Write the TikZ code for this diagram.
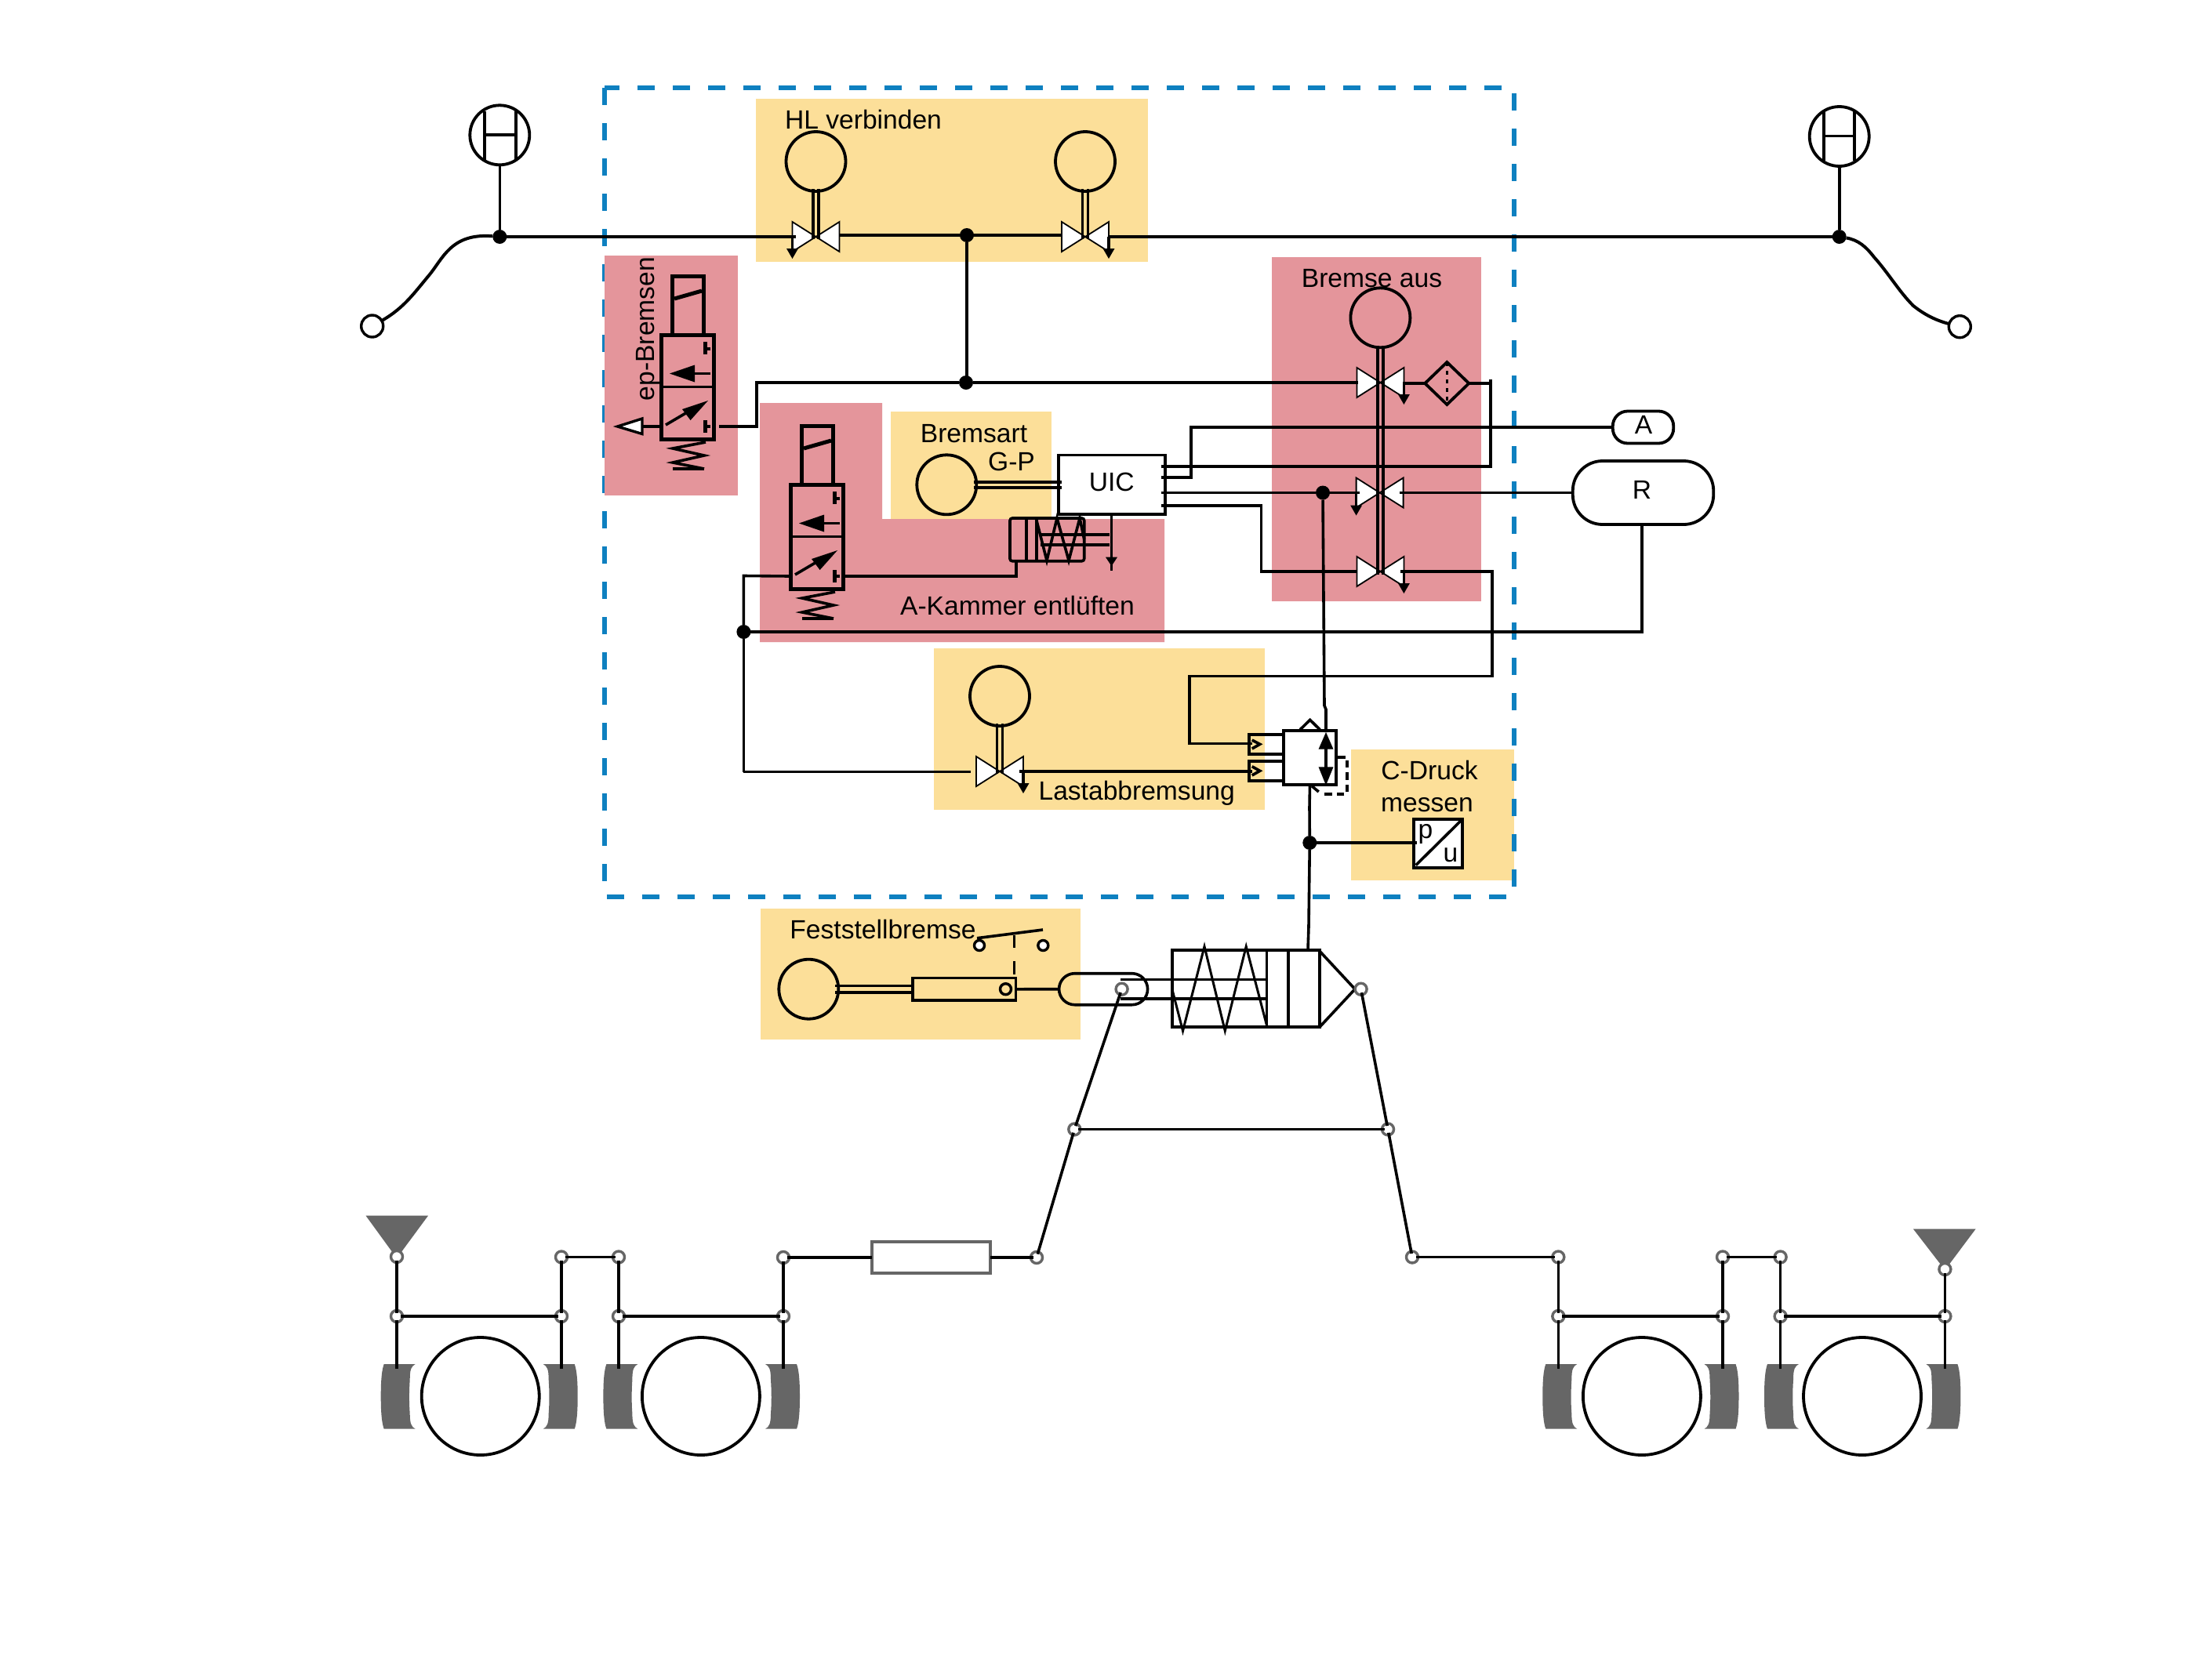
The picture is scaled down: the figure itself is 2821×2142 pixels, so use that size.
\documentclass[tikz,border=0pt]{standalone}
\usepackage{fontspec}
\setmainfont{Liberation Sans}
\usetikzlibrary{calc,shapes.geometric}
\definecolor{yel}{HTML}{FCDF99}
\definecolor{pnk}{HTML}{E4959B}
\definecolor{blu}{HTML}{0E80C0}
\definecolor{gry}{HTML}{666666}
\tikzset{
  wire/.style={line width=3.6pt,draw=black},
  hl/.style={line width=4pt,draw=black},
  heavy/.style={line width=5pt,draw=black},
  slim/.style={line width=3pt,draw=black},
  vtri/.style={line width=1.8pt,draw=black,fill=white},
  dis/.style={circle,draw=black,line width=3.8pt,inner sep=0pt,outer sep=0pt,minimum size=76pt},
  wheel/.style={circle,draw=black,line width=3.8pt,inner sep=0pt,outer sep=0pt,fill=white,minimum size=150pt},
  junc/.style={circle,fill=black,inner sep=0pt,outer sep=0pt,minimum size=18pt},
  pivot/.style={circle,draw=gry,fill=white,line width=3.4pt,inner sep=0pt,outer sep=0pt,minimum size=15pt},
  link/.style={line width=3.6pt,draw=black,shorten >=-3pt,shorten <=-3pt},
  lab/.style={anchor=base,inner sep=0pt,outer sep=0pt,yshift=-1.5pt,font=\fontsize{33.6}{38}\selectfont},
  shoeg/.style={fill=gry},
  boxn/.style={draw=black,fill=white,line width=3.8pt,inner sep=0pt,outer sep=0pt},
}
\newcommand{\valve}[3]{%
  \coordinate (#1) at (#2,#3);
  \coordinate (#1l) at (#2-30,#3);
  \coordinate (#1r) at (#2+30,#3);
  \draw[vtri] (#2,#3) -- (#2-30,#3-19) -- (#2-30,#3+19) -- cycle;
  \draw[vtri] (#2,#3) -- (#2+30,#3-19) -- (#2+30,#3+19) -- cycle;
}
\newcommand{\exhaust}[2]{% named start, downward
  \draw[wire] (#1) -- ++(0,#2-3);
  \fill[black] ($(#1)+(-7.5,#2-13)$) -- ($(#1)+(7.5,#2-13)$) -- ($(#1)+(0,#2)$) -- cycle;
}
\newcommand{\dwires}[2]{% disc, valve
  \draw[wire] ($(#1.south)+(-3.4,-3)$) -- ($(#2)+(-3.4,3)$);
  \draw[wire] ($(#1.south)+(3.4,-3)$) -- ($(#2)+(3.4,3)$);
}
\newcommand{\solvalve}[3]{%
 \begin{scope}[shift={(#2,#3)}]
  \draw[heavy] (14,0) -- (14,-75) -- (54,-75) -- (54,0);
  \draw[heavy] (17,-46) -- (52,-56);
  \draw[heavy] (0,0) rectangle (67,133);
  \draw[slim] (0,66.5) -- (67,66.5);
  \draw[wire] (63,18) -- (56,18);
  \draw[heavy] (56,9) -- (56,25);
  \draw[wire] (63,49.5) -- (30,49.5);
  \fill[black] (11,49.5) -- (43,38.5) -- (43,60.5) -- cycle;
  \draw[wire] (6,115) -- (40,95);
  \fill[black] (60,84) -- (27,95) -- (37.6,109) -- cycle;
  \draw[wire] (63,117) -- (56,117);
  \draw[heavy] (56,109) -- (56,125);
  \draw[wire] (57,137) -- (15,145) -- (55,154) -- (15,163) -- (55,171);
  \draw[wire] (15,171) -- (55,171);
  \coordinate (#1w) at (0,117);
  \coordinate (#1e) at (67,117);
 \end{scope}
}
\newcommand{\shoeL}[1]{%
  \fill[shoeg,shift={(#1,0)}] (4,1740) -- (44,1740) .. controls (39,1743) and (37,1746) .. (37,1760)
    .. controls (36,1775) and (36,1790) .. (37,1803) .. controls (37,1816) and (39,1820) .. (44,1822.7)
    -- (4,1822.7) .. controls (1,1815) and (0,1800) .. (0,1781) .. controls (0,1762) and (1,1748) .. (4,1740) -- cycle;
}
\newcommand{\shoeR}[1]{%
  \fill[shoeg,shift={(#1,0)},xscale=-1] (4,1740) -- (44,1740) .. controls (39,1743) and (37,1746) .. (37,1760)
    .. controls (36,1775) and (36,1790) .. (37,1803) .. controls (37,1816) and (39,1820) .. (44,1822.7)
    -- (4,1822.7) .. controls (1,1815) and (0,1800) .. (0,1781) .. controls (0,1762) and (1,1748) .. (4,1740) -- cycle;
}
\begin{document}
\begin{tikzpicture}[x=1pt,y=-1pt]
\useasboundingbox (0,0) rectangle (2821,2142);
\fill[white] (0,0) rectangle (2821,2142);

% --- coloured groups
\fill[yel] (1723,956) rectangle (1931,1123);
\draw[blu,line width=6pt,dash pattern=on 22pt off 23pt] (770.5,112.4) rectangle (1931,1144);
\fill[pnk] (771,326) rectangle (941,632);
\fill[yel] (964,126) rectangle (1464,334);
\fill[pnk] (969,514) -- (1125,514) -- (1125,662) -- (1485,662) -- (1485,819) -- (969,819) -- cycle;
\fill[yel] (1136,525) rectangle (1341,662);
\fill[pnk] (1622,328) rectangle (1889.4,767);
\fill[yel] (1191,827) rectangle (1612.7,1032.7);
\fill[yel] (970,1159) rectangle (1378,1325.7);

% --- texts
\node[lab] (tHL) at (1101,163.4) {HL verbinden};
\node[lab,rotate=90,anchor=base,yshift=1.5pt,xshift=1pt] (tEP) at (836,419) {ep-Bremsen};
\node[lab] (tBS) at (1242,562.7) {Bremsart};
\node[lab] (tGP) at (1290,599) {G-P};
\node[lab] (tAK) at (1297.5,783) {A-Kammer entlüften};
\node[lab] (tBA) at (1749.5,365) {Bremse aus};
\node[lab] (tLB) at (1449.7,1019) {Lastabbremsung};
\node[lab] (tCD) at (1823,993.3) {C-Druck};
\node[lab] (tME) at (1820,1034.3) {messen};
\node[lab] (tFB) at (1126,1196) {Feststellbremse};

% --- junctions and end points of the main pipe
\node[junc] (jL) at (637.3,302) {};
\node[junc] (jR) at (2345.7,302) {};
\node[junc] (jT) at (1233,300) {};
\node[junc] (jM) at (1232,488) {};
\node[junc] (jC) at (1687,628.5) {};
\node[junc] (jW) at (948.4,806) {};
\node[junc] (jP) at (1670.3,1075) {};
\node[circle,draw=black,line width=3.4pt,fill=white,inner sep=0pt,outer sep=0pt,minimum size=28pt] (endL) at (474.7,416) {};
\node[circle,draw=black,line width=3.4pt,fill=white,inner sep=0pt,outer sep=0pt,minimum size=28pt] (endR) at (2499.3,416.7) {};
\node[dis] (hL) at (637.3,172.3) {};
\node[dis] (hR) at (2345.7,174) {};
\draw[hl] (618.3,141.5) -- (618.3,203.5);
\draw[hl] (657.7,141.5) -- (657.7,203.5);
\draw[wire] (618.3,172) -- (657.7,172);
\draw[hl] (2325.5,141.5) -- (2325.5,204.5);
\draw[hl] (2364.5,141.5) -- (2364.5,204.5);
\draw[wire] (2325.5,173.3) -- (2364.5,173.3);
\draw[wire] (hL.south) -- (jL);
\draw[wire] (hR.south) -- (jR);
\draw[hl] (jL) .. controls (575,297) and (565,330) .. (546.7,351.7) .. controls (528,374) and (515,393) .. (endL);
\draw[hl] (jR) .. controls (2370,306) and (2380,315) .. (2390,328) .. controls (2408,348) and (2422,372) .. (2440,390) .. controls (2455,402) and (2470,409) .. (endR);

% --- HL valves
\node[dis] (cH1) at (1040.5,206) {};
\node[dis] (cH2) at (1384,206) {};
\valve{vH1}{1040.5}{302}
\valve{vH2}{1384}{302}
\dwires{cH1}{vH1}
\dwires{cH2}{vH2}
\exhaust{vH1l}{28}
\exhaust{vH2r}{28}
\draw[hl] (jL) -- ($(vH1l)+(4,0)$);
\draw[wire] ($(vH1r)+(0,-2)$) -- (jT.center) -- ($(vH2l)+(0,-2)$);
\draw[hl] (vH2r) -- (jR);
\draw[wire] (jT) -- (jT |- jM);

% --- ep valve
\solvalve{ep}{843}{427}
\coordinate (epOut) at (917,544);
\draw[wire] (epOut) -- (965,544) -- (965,488) -- (jM);
\draw[wire] (epw) -- (819,544);
\draw[line width=3.4pt,fill=white] (787.5,544) -- (819,534) -- (819,553.5) -- cycle;

% --- A-chamber valve and small cylinder
\solvalve{ak}{1008}{618}
\draw[wire] (akw) -- (948.4,734.5) -- (jW);
\draw[wire] (jW) -- (948.4,984.5);
\draw[wire] (ake) -- (1296,735) -- (1296,715.7);
\draw[wire,rounded corners=3pt] (1288,661) rectangle (1382.7,715.7);
\draw[wire] (1309,661) -- (1309,715.7);
\draw[wire] (1321.7,661) -- (1321.7,715.7);
\draw[wire] (1321.7,663) -- (1335,715) -- (1348,661) -- (1363,715) -- (1377,661) -- (1382.7,688);
\draw[wire] (1326.7,681.7) -- (1415,681.7);
\draw[wire] (1326.7,695) -- (1415,695);

% --- UIC and type-of-brake disc
\node[dis] (cBS) at (1207.3,618.3) {};
\node[boxn,minimum width=136pt,minimum height=75.5pt] (uic) at (1417.6,618.3) {};
\node[lab] (tUIC) at (1417.7,625) {UIC};
\draw[wire] (1241.7,615) -- (1354,615);
\draw[wire] (1241.7,622) -- (1354,622);
\coordinate (uA) at (1417.5,655);
\draw[wire] (uA) -- (1417.5,728);
\fill[black] (1410,710.7) -- (1425,710.7) -- (1417.5,722) -- cycle;

% --- Bremse aus
\node[dis] (cBA) at (1760.4,405.3) {};
\valve{vB1}{1760.4}{488}
\valve{vB2}{1759.6}{628.5}
\valve{vB3}{1760.4}{729}
\draw[wire] ($(cBA.south)+(-3.4,-2)$) -- ($(vB3)+(-3.4,4)$);
\draw[hl] ($(cBA.south)+(3.4,-2)$) -- ($(vB3)+(3.4,4)$);
\exhaust{vB1r}{28}
\exhaust{vB2l}{29}
\exhaust{vB3r}{28}
\node[draw=black,line width=3.8pt,diamond,fill=none,minimum width=56pt,minimum height=54pt,inner sep=0pt,outer sep=0pt] (fil) at (1845.3,489) {};
\draw[line width=3.6pt,dash pattern=on 5pt off 6pt] (fil.north) -- (fil.south);
\draw[wire] (jM) -- ($(vB1l)+(2,0)$);
\draw[wire] ($(vB1r)+(-1,1)$) -- (fil.west);
\draw[wire] (fil.east) -- (1901,489);
\coordinate (u1) at (1481,595);
\coordinate (u2) at (1481,608.7);
\coordinate (u3) at (1481,628.5);
\coordinate (u4) at (1481,645);
\draw[wire] (u1) -- (1901,595) -- (1901,484);
\node[boxn,minimum width=77.5pt,minimum height=41pt,rounded corners=19pt] (Abox) at (2095.5,545) {};
\node[lab] (tA) at (2096,551.7) {A};
\node[boxn,minimum width=179.5pt,minimum height=81pt,rounded corners=38pt] (Rbox) at (2095.5,628.5) {};
\node[lab] (tR) at (2094,635) {R};
\draw[wire] (u2) -- (1519,608.7) -- (1519,545) -- (Abox.west);
\draw[wire] (u3) -- (jC);
\draw[wire] (jC) -- ($(vB2l)+(4,0)$);
\draw[wire] ($(vB2r)+(-5,0)$) -- (Rbox.west);
\draw[wire] (u4) -- (1608.6,645) -- (1608.6,729) -- (vB3l);
\coordinate (Rd) at (2094,806);
\draw[wire] (Rbox.south -| Rd) -- (Rd) -- (jW);

% --- Lastabbremsung
\node[dis] (cLB) at (1275,888) {};
\valve{vL}{1275}{984}
\dwires{cLB}{vL}
\exhaust{vLr}{28}
\draw[wire] (948.4,984.5) -- (1237.7,984.5);

% --- shuttle valve
\draw[wire] (1593,936.7) rectangle (1637,961.7);
\draw[wire] (1593,970.7) rectangle (1637,996);
\node[boxn,minimum width=67pt,minimum height=68.7pt] (ctl) at (1670.5,966.3) {};
\draw[wire] (1596.7,944) -- (1606.7,949.3) -- (1596.7,955);
\draw[wire] (1596.7,977.7) -- (1606.7,983.3) -- (1596.7,989);
\draw[wire] (1658,930.7) -- (1670.7,918.3) -- (1683.3,930.7);
\draw[wire] (1673,1002.7) -- (1681.7,1010);
\draw[wire] (1691,945) -- (1691,985);
\fill[black] (1691,934) -- (1700.5,955.7) -- (1681.5,955.7) -- cycle;
\fill[black] (1691,1001.7) -- (1700.5,978.3) -- (1681.5,978.3) -- cycle;
\draw[wire,dash pattern=on 9.5pt off 6pt] (1706,966) -- (1717.7,966) -- (1717.7,1013) -- (1684,1013);
\draw[wire] (jC) -- (1689,900) -- (1691,905) -- (1691,934);
\draw[wire] (vLr) ++(-5,0) -- (1597,984);
\draw[wire] (1786,729) -- (1903,729) -- (1903,862.3) -- (1516.7,862.3) -- (1516.7,948.3) -- (1597,948.3);
\draw[wire] (ctl.south) -- (1670,1030) -- (jP);

% --- pressure sensor
\node[boxn,minimum width=62.3pt,minimum height=61.7pt] (pu) at (1833.8,1075.8) {};
\draw[wire] (pu.south west) ++(3,-3) -- ($(pu.north east)+(-2,2)$);
\node[lab] (tp) at (1818,1068) {p};
\node[lab] (tu) at (1850,1098) {u};
\draw[wire] (jP) -- (1807,1075);

% --- parking brake
\node[dis] (cFB) at (1031.3,1261.7) {};
\node[draw=black,line width=3.4pt,inner sep=0pt,outer sep=0pt,minimum width=131.7pt,minimum height=28.3pt] (fb) at (1229.8,1261.8) {};
\draw[wire] (1065,1257.3) -- (1165.7,1257.3);
\draw[wire] (1065,1266) -- (1165.7,1266);
\node[circle,draw=black,line width=3.4pt,fill=none,inner sep=0pt,outer sep=0pt,minimum size=14pt] (fbo) at (1282.5,1261.7) {};
\node[circle,draw=black,line width=3.4pt,fill=white,inner sep=0pt,outer sep=0pt,minimum size=13pt] (sw1) at (1249,1206) {};
\node[circle,draw=black,line width=3.4pt,fill=white,inner sep=0pt,outer sep=0pt,minimum size=13pt] (sw2) at (1330.3,1206) {};
\draw[wire] (1246,1196.7) -- (1330,1186);
\draw[slim,dash pattern=on 16.5pt off 17pt] (1293,1192.7) -- (1293,1243);
\draw[wire,rounded corners=20pt] (1350.6,1241.7) rectangle (1463.6,1281.7);
\draw[wire] (fb.east) -- (1350.6,1261.7);
\draw[wire] (1429,1249.3) -- (1614,1249.3);
\draw[wire] (1429,1273.7) -- (1614,1273.7);
\draw[line width=4.2pt] (1494.8,1212.3) rectangle (1683,1310);
\draw[wire] (1615.5,1212.3) -- (1615.5,1310);
\draw[wire] (1643,1212.3) -- (1643,1310);
\draw[slim] (1494.8,1261.7) -- (1508.5,1315) -- (1536,1207.3) -- (1562.3,1315) -- (1589.2,1207.3) -- (1615.5,1308);
\draw[wire] (1683,1213.3) -- (1728,1261.7) -- (1683,1310);
\coordinate (cyl) at (1668,1211.7);
\draw[wire] (jP) -- (1669,1181.7) -- (cyl);

% --- linkage
\node[pivot] (pa) at (1430.6,1261.7) {};
\node[pivot] (pb) at (1735.6,1261.7) {};
\node[pivot] (pc) at (1370.3,1440.5) {};
\node[pivot] (pd) at (1770,1440.5) {};
\node[pivot] (pe) at (1322,1604) {};
\node[pivot] (pf) at (1801,1603.5) {};
\draw[link] (pa) -- (pc);
\draw[link] (pb) -- (pd);
\draw[link] (pc) -- (pd);
\draw[link] (pc) -- (pe);
\draw[link] (pd) -- (pf);

% --- wheels and brake shoes
\shoeL{485.7}\shoeR{736.7}\shoeL{769.4}\shoeR{1020}
\shoeL{1967.3}\shoeR{2217.5}\shoeL{2250}\shoeR{2500.4}
\node[wheel] (w1) at (612.7,1781) {};
\node[wheel] (w2) at (893.9,1781) {};
\node[wheel] (w3) at (2093.9,1781) {};
\node[wheel] (w4) at (2375,1781) {};
\fill[gry] (466.5,1550.7) -- (546,1550.7) -- (506,1605) -- cycle;
\fill[gry] (2440,1567.7) -- (2519.6,1567.7) -- (2480.4,1620) -- cycle;
\node[pivot] (a1) at (506,1603) {};
\node[pivot] (a2) at (716,1603.5) {};
\node[pivot] (a3) at (789,1603.5) {};
\node[pivot] (a4) at (999,1604) {};
\node[pivot] (b1) at (506,1679) {};
\node[pivot] (b2) at (716,1679) {};
\node[pivot] (b3) at (789,1679) {};
\node[pivot] (b4) at (999,1679) {};
\node[pivot] (c1) at (1987.3,1603.5) {};
\node[pivot] (c2) at (2197,1603.5) {};
\node[pivot] (c3) at (2270.6,1603.5) {};
\node[pivot] (c4) at (2480.4,1619) {};
\node[pivot] (d1) at (1987.3,1679) {};
\node[pivot] (d2) at (2197,1679) {};
\node[pivot] (d3) at (2270.6,1679) {};
\node[pivot] (d4) at (2480.4,1679) {};
\foreach \p/\q in {a1/b1,a2/b2,a3/b3,a4/b4,b1/b2,b3/b4,a2/a3,c1/d1,c2/d2,c3/d3,c4/d4,d1/d2,d3/d4,c2/c3}{
  \draw[link] (\p) -- (\q);
}
\foreach \p in {b1,b2,b3,b4,d1,d2,d3,d4}{
  \draw[link,shorten >=0pt] (\p) -- (\p |- 0,1745.7);
}
\node[draw=gry,fill=white,line width=3.4pt,inner sep=0pt,outer sep=0pt,minimum width=151pt,minimum height=40pt] (damp) at (1187.5,1604) {};
\draw[link,shorten >=0pt] (a4) -- (damp.west |- a4);
\draw[link,shorten <=0pt] (damp.east |- pe) -- (pe);
\draw[link] (pf) -- (c1);
\end{tikzpicture}
\end{document}
